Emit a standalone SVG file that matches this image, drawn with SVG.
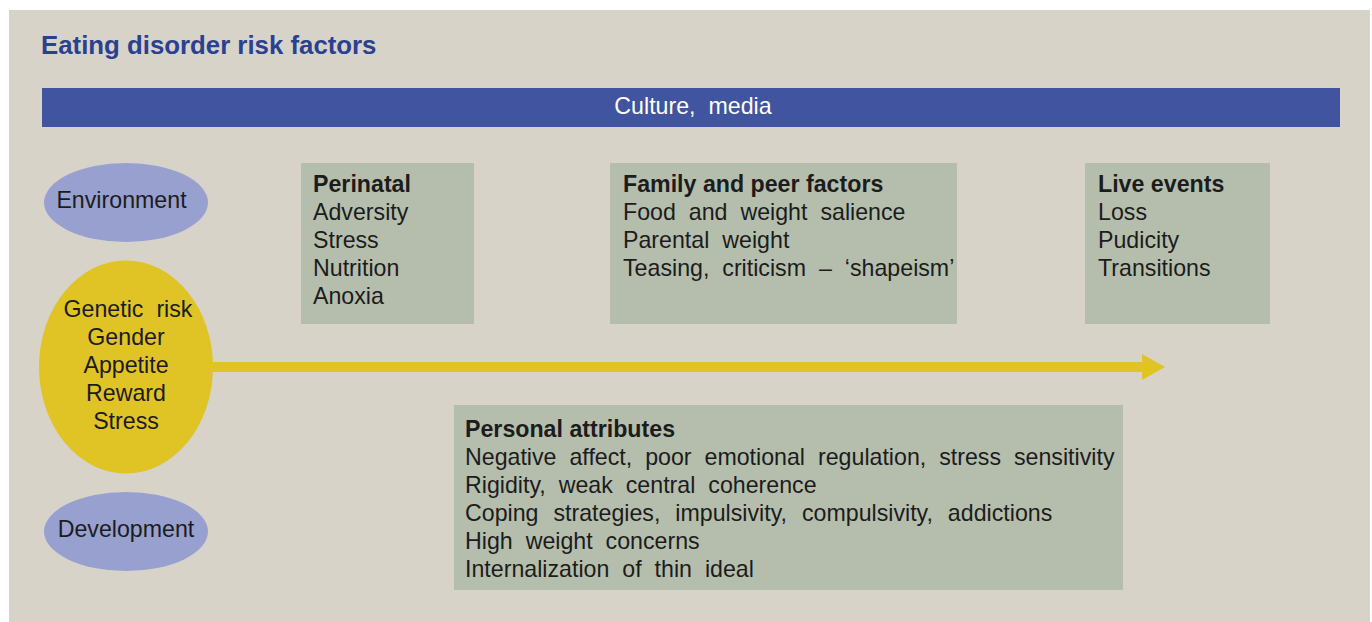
<svg xmlns="http://www.w3.org/2000/svg" width="1372" height="622" viewBox="0 0 1372 622">
  <defs>
    <style>
      .panel { fill: #d7d3c9; }
      .band { fill: #40549f; }
      .oval { fill: #98a0d0; }
      .core { fill: #e0c325; }
      .box { fill: #b5beac; }
      .flow { fill: #e0c325; }
      text { font-family: "Liberation Sans", Arial, Helvetica, sans-serif; font-size: 23.2px; fill: #1c1c1c; }
      .title { font-size: 25.8px; font-weight: bold; fill: #2a4190; }
      .head { font-weight: bold; }
      .light { fill: #ffffff; }
      .mid { text-anchor: middle; }
      .wide { word-spacing: 6.5px; }
      .wider { word-spacing: 8.5px; }
    </style>
  </defs>

  <rect class="panel" x="9" y="10" width="1361" height="612"/>
  <text class="title" x="41" y="54">Eating disorder risk factors</text>

  <g id="culture">
    <rect class="band" x="42" y="88" width="1298" height="39"/>
    <text class="light mid wide" x="693" y="114">Culture, media</text>
  </g>

  <g id="connectors">
    <rect class="flow" x="210" y="362" width="934" height="10"/>
    <polygon class="flow" points="1142,354 1165,367 1142,380"/>
  </g>

  <g id="environment">
    <ellipse class="oval" cx="126" cy="202.5" rx="82" ry="39.5"/>
    <text class="mid" x="121.5" y="208">Environment</text>
  </g>

  <g id="biology">
    <ellipse class="core" cx="126" cy="367" rx="87" ry="106.5"/>
    <text class="mid wide" x="128" y="317">Genetic risk</text>
    <text class="mid" x="126" y="345">Gender</text>
    <text class="mid" x="126" y="373">Appetite</text>
    <text class="mid" x="126" y="401">Reward</text>
    <text class="mid" x="126" y="429">Stress</text>
  </g>

  <g id="development">
    <ellipse class="oval" cx="126" cy="531.5" rx="82" ry="39.5"/>
    <text class="mid" x="126" y="537">Development</text>
  </g>

  <g id="perinatal">
    <rect class="box" x="301" y="163" width="173" height="161"/>
    <text class="head" x="313" y="192">Perinatal</text>
    <text x="313" y="220">Adversity</text>
    <text x="313" y="248">Stress</text>
    <text x="313" y="276">Nutrition</text>
    <text x="313" y="304">Anoxia</text>
  </g>

  <g id="family">
    <rect class="box" x="610" y="163" width="347" height="161"/>
    <text class="head" x="623" y="192">Family and peer factors</text>
    <text class="wide" x="623" y="220">Food and weight salience</text>
    <text class="wide" x="623" y="248">Parental weight</text>
    <text class="wide" x="623" y="276">Teasing, criticism – ‘shapeism’</text>
  </g>

  <g id="life-events">
    <rect class="box" x="1085" y="163" width="185" height="161"/>
    <text class="head" x="1098" y="192">Live events</text>
    <text x="1098" y="220">Loss</text>
    <text x="1098" y="248">Pudicity</text>
    <text x="1098" y="276">Transitions</text>
  </g>

  <g id="personal">
    <rect class="box" x="454" y="405" width="669" height="185"/>
    <text class="head" x="465" y="437">Personal attributes</text>
    <text class="wide" x="465" y="465">Negative affect, poor emotional regulation, stress sensitivity</text>
    <text class="wide" x="465" y="493">Rigidity, weak central coherence</text>
    <text class="wider" x="465" y="521">Coping strategies, impulsivity, compulsivity, addictions</text>
    <text class="wide" x="465" y="549">High weight concerns</text>
    <text class="wide" x="465" y="577">Internalization of thin ideal</text>
  </g>
</svg>
